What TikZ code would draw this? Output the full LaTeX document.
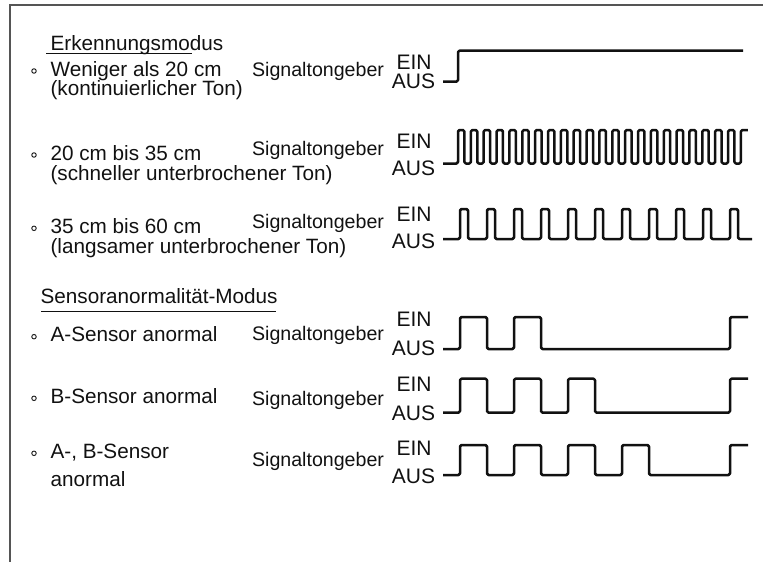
\documentclass[tikz,border=0pt]{standalone}
\usepackage{fontspec}
\setmainfont{Liberation Sans}
\definecolor{cframe}{HTML}{555555}
\definecolor{cink}{HTML}{111111}
\tikzset{
  every picture/.style={line width=1.2pt},
  lbl/.style={anchor=base west, inner sep=0pt, text=cink, font=\fontsize{20.7}{24}\selectfont},
  buzz/.style={lbl, font=\fontsize{19.6}{24}\selectfont},
  level/.style={anchor=base, inner sep=0pt, text=cink, font=\fontsize{21}{24}\selectfont},
  dot/.style={circle, draw=cink, line width=0.9pt, inner sep=0pt, minimum size=4.5pt},
  wave/.style={draw=cink, line width=2.5pt, rounded corners=1.5pt, line join=round},
  rule/.style={draw=cink, line width=1.3pt},
  frame/.style={draw=cframe, line width=1.6pt},
}

\begin{document}
\begin{tikzpicture}[x=1pt, y=-1pt]
  \useasboundingbox (0,0) rectangle (763,562);
  \draw[frame] (763,5) -- (10,5) -- (10,562);
  \node[lbl] (mode1) at (50,50) {Erkennungsmodus};
  \draw[rule] (46,53.5) -- (192,53.5);
  \node[lbl] (mode2) at (40,303.3) {Sensoranormalität-Modus};
  \draw[rule] (41,311.7) -- (276,311.7);
  \node[dot] (dot1) at (34,71) {}; \node[lbl] (case1) at (50,76) {Weniger als 20 cm};
  \node[lbl] (note1) at (50,95.5) {(kontinuierlicher Ton)};
  \node[dot] (dot2) at (34,155) {}; \node[lbl] (case2) at (50,160) {20 cm bis 35 cm};
  \node[lbl] (note2) at (50,180.5) {(schneller unterbrochener Ton)};
  \node[dot] (dot3) at (34,228.3) {}; \node[lbl] (case3) at (50,233.3) {35 cm bis 60 cm};
  \node[lbl] (note3) at (50,253.5) {(langsamer unterbrochener Ton)};
  \node[dot] (dot4) at (34,336.7) {}; \node[lbl] (case4) at (50,341.7) {A-Sensor anormal};
  \node[dot] (dot5) at (34,398.3) {}; \node[lbl] (case5) at (50,403.3) {B-Sensor anormal};
  \node[dot] (dot6) at (34,453.3) {}; \node[lbl] (case6) at (50,458.3) {A-, B-Sensor};
  \node[lbl] (note6) at (50,486) {anormal};
  \foreach \i/\ys/\ye/\yu in {1/76/69.3/88.3, 2/155/148.3/175, 3/228.3/221.7/248.3,
      4/340/326.7/355, 5/405/391.7/420, 6/466.7/455/483.3} {
    \node[buzz] (buzz\i) at (251.5,\ys) {Signaltongeber};
    \node[level] (on\i) at (414,\ye) {EIN};
    \node[level] (off\i) at (413.5,\yu) {AUS};
  }
  \draw[wave] (443,81.7) -- (458,81.7) -- (458,50.7) -- (743,50.7);
  \draw[wave] (443,163.5) -- (458,163.5)
    \foreach \k in {1,...,22} { -- ++(0,-33.5) -- ++(6.4,0) -- ++(0,33.5) -- ++(6.46,0) }
    -- ++(0,-33.5) -- ++(7,0);
  \draw[wave] (443,239) -- (460,239)
    \foreach \k in {1,...,10} { -- ++(0,-30) -- ++(8,0) -- ++(0,30) -- ++(19,0) }
    -- ++(0,-30) -- ++(8,0) -- ++(0,30) -- (752,239);
  \foreach \yl/\h/\n in {349/32/2, 412.7/34/3, 475/30/4} {
    \draw[wave] (443,\yl) -- (460,\yl)
      \foreach \k in {1,...,\n} { -- ++(0,-\h) -- ++(27,0) -- ++(0,\h) -- ++(27,0) }
      -- (730,\yl) -- ++(0,-\h) -- ++(18,0);
  }
\end{tikzpicture}
\end{document}
